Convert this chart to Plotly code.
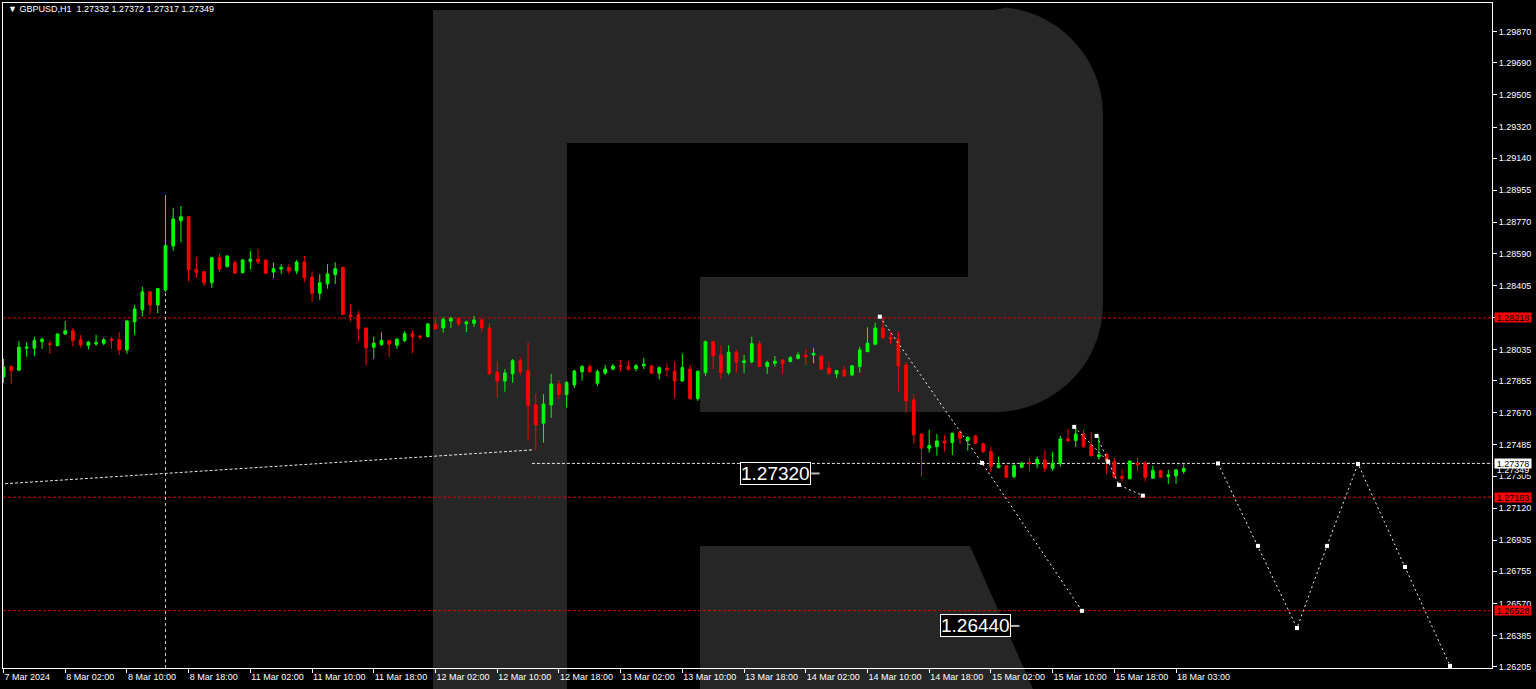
import math
import plotly.graph_objects as go

# ---------------- data ----------------
bar_index = list(range(154))
opens = [1.27877,1.27937,1.27916,1.28043,1.28043,1.28081,1.28069,1.28058,1.28125,1.28144,
         1.28092,1.28060,1.28068,1.28072,1.28096,1.28092,1.28033,1.28195,1.28264,1.28369,
         1.28293,1.28379,1.28633,1.28779,1.28802,1.28499,1.28485,1.28421,1.28566,1.28514,
         1.28537,1.28479,1.28543,1.28558,1.28552,1.28483,1.28500,1.28510,1.28489,1.28541,
         1.28454,1.28360,1.28414,1.28468,1.28510,1.28237,1.28237,1.28160,1.28049,1.28064,
         1.28087,1.28060,1.28087,1.28127,1.28114,1.28110,1.28183,1.28160,1.28200,1.28216,
         1.28183,1.28187,1.28206,1.28160,1.27906,1.27854,1.27895,1.27971,1.27914,1.27716,
         1.27610,1.27716,1.27837,1.27775,1.27831,1.27906,1.27937,1.27841,1.27899,1.27922,
         1.27942,1.27941,1.27925,1.27942,1.27941,1.27899,1.27927,1.27910,1.27854,1.27923,
         1.27752,1.27902,1.28081,1.28004,1.27902,1.28020,1.27960,1.27964,1.28069,1.27937,
         1.27956,1.27975,1.27966,1.27985,1.28004,1.28004,1.27998,1.27927,1.27895,1.27918,
         1.27889,1.27937,1.28023,1.28066,1.28160,1.28106,1.28096,1.27946,1.27745,1.27548,
         1.27466,1.27475,1.27508,1.27498,1.27558,1.27510,1.27537,1.27491,1.27446,1.27354,
         1.27365,1.27302,1.27356,1.27383,1.27375,1.27398,1.27350,1.27379,1.27519,1.27510,
         1.27548,1.27485,1.27417,1.27431,1.27388,1.27302,1.27289,1.27379,1.27379,1.27292,
         1.27337,1.27302,1.27306,1.27332]
highs = [1.27981,1.27946,1.28085,1.28077,1.28108,1.28104,1.28087,1.28129,1.28200,1.28160,
         1.28120,1.28085,1.28120,1.28104,1.28108,1.28137,1.28206,1.28293,1.28398,1.28373,
         1.28392,1.28927,1.28854,1.28864,1.28808,1.28571,1.28486,1.28571,1.28587,1.28581,
         1.28552,1.28558,1.28604,1.28616,1.28554,1.28537,1.28528,1.28529,1.28552,1.28577,
         1.28487,1.28472,1.28528,1.28539,1.28512,1.28298,1.28260,1.28160,1.28110,1.28133,
         1.28088,1.28102,1.28143,1.28148,1.28117,1.28189,1.28216,1.28222,1.28225,1.28222,
         1.28202,1.28231,1.28216,1.28187,1.27970,1.27922,1.27981,1.27985,1.28077,1.27783,
         1.27777,1.27895,1.27860,1.27854,1.27918,1.27946,1.27951,1.27918,1.27946,1.27952,
         1.27975,1.27970,1.27951,1.27987,1.27946,1.27937,1.27956,1.27966,1.28012,1.27948,
         1.27914,1.28087,1.28087,1.28060,1.28060,1.28033,1.28004,1.28110,1.28087,1.27971,
         1.27998,1.27981,1.27998,1.28020,1.28037,1.28043,1.28000,1.27966,1.27918,1.27941,
         1.27946,1.28052,1.28164,1.28191,1.28225,1.28139,1.28135,1.27962,1.27779,1.27548,
         1.27571,1.27548,1.27543,1.27556,1.27571,1.27533,1.27543,1.27498,1.27473,1.27417,
         1.27369,1.27373,1.27388,1.27412,1.27417,1.27456,1.27443,1.27537,1.27577,1.27581,
         1.27571,1.27560,1.27533,1.27440,1.27410,1.27341,1.27394,1.27412,1.27392,1.27365,
         1.27341,1.27341,1.27343,1.27372]
lows = [1.27843,1.27837,1.27915,1.27994,1.27998,1.28039,1.28010,1.28054,1.28121,1.28052,
        1.28046,1.28037,1.28056,1.28060,1.28039,1.28004,1.28010,1.28120,1.28225,1.28241,
        1.28245,1.28368,1.28606,1.28654,1.28427,1.28450,1.28404,1.28392,1.28483,1.28508,
        1.28472,1.28476,1.28499,1.28529,1.28472,1.28448,1.28473,1.28470,1.28470,1.28425,
        1.28310,1.28322,1.28387,1.28414,1.28235,1.28196,1.28081,1.27942,1.27983,1.28056,
        1.27994,1.28039,1.28077,1.28012,1.28092,1.28106,1.28152,1.28133,1.28160,1.28172,
        1.28137,1.28167,1.28133,1.27887,1.27754,1.27792,1.27844,1.27889,1.27510,1.27456,
        1.27498,1.27641,1.27752,1.27700,1.27814,1.27856,1.27904,1.27825,1.27889,1.27921,
        1.27914,1.27914,1.27910,1.27923,1.27895,1.27864,1.27879,1.27754,1.27851,1.27745,
        1.27739,1.27883,1.27923,1.27866,1.27889,1.27904,1.27899,1.27956,1.27933,1.27895,
        1.27937,1.27893,1.27962,1.27979,1.27942,1.27956,1.27918,1.27889,1.27870,1.27879,
        1.27883,1.27902,1.28021,1.28060,1.28095,1.28066,1.27792,1.27671,1.27489,1.27302,
        1.27440,1.27423,1.27446,1.27427,1.27489,1.27452,1.27491,1.27437,1.27327,1.27350,
        1.27294,1.27292,1.27350,1.27331,1.27350,1.27327,1.27335,1.27360,1.27500,1.27472,
        1.27467,1.27417,1.27398,1.27316,1.27292,1.27273,1.27287,1.27331,1.27273,1.27289,
        1.27294,1.27260,1.27260,1.27317]
closes = [1.27935,1.27914,1.28049,1.28050,1.28087,1.28095,1.28064,1.28125,1.28144,1.28087,
          1.28062,1.28079,1.28075,1.28092,1.28089,1.28033,1.28200,1.28270,1.28369,1.28293,
          1.28387,1.28637,1.28789,1.28802,1.28495,1.28481,1.28421,1.28566,1.28499,1.28575,
          1.28476,1.28552,1.28558,1.28543,1.28476,1.28502,1.28510,1.28489,1.28541,1.28450,
          1.28360,1.28421,1.28472,1.28502,1.28237,1.28225,1.28156,1.28045,1.28072,1.28087,
          1.28066,1.28095,1.28127,1.28110,1.28108,1.28183,1.28154,1.28210,1.28216,1.28183,
          1.28195,1.28206,1.28162,1.27895,1.27854,1.27900,1.27971,1.27908,1.27712,1.27600,
          1.27721,1.27837,1.27777,1.27844,1.27912,1.27937,1.27906,1.27908,1.27923,1.27941,
          1.27937,1.27922,1.27942,1.27951,1.27899,1.27931,1.27918,1.27854,1.27931,1.27752,
          1.27910,1.28081,1.27998,1.27902,1.28020,1.27962,1.27970,1.28069,1.27937,1.27960,
          1.27968,1.27954,1.27989,1.28004,1.27994,1.28014,1.27922,1.27899,1.27914,1.27883,
          1.27942,1.28033,1.28072,1.28160,1.28104,1.28095,1.27942,1.27739,1.27543,1.27466,
          1.27481,1.27508,1.27495,1.27552,1.27524,1.27529,1.27495,1.27446,1.27360,1.27369,
          1.27298,1.27365,1.27379,1.27375,1.27402,1.27350,1.27379,1.27519,1.27510,1.27548,
          1.27475,1.27423,1.27427,1.27388,1.27298,1.27292,1.27392,1.27369,1.27298,1.27337,
          1.27298,1.27312,1.27341,1.27349]

tick_bars = list(range(0, 153, 8))
tick_labels = ["7 Mar 2024", "8 Mar 02:00", "8 Mar 10:00", "8 Mar 18:00", "11 Mar 02:00",
               "11 Mar 10:00", "11 Mar 18:00", "12 Mar 02:00", "12 Mar 10:00", "12 Mar 18:00",
               "13 Mar 02:00", "13 Mar 10:00", "13 Mar 18:00", "14 Mar 02:00", "14 Mar 10:00",
               "14 Mar 18:00", "15 Mar 02:00", "15 Mar 10:00", "15 Mar 18:00", "18 Mar 03:00"]
price_ticks = [1.29870, 1.29690, 1.29505, 1.29320, 1.29140, 1.28955, 1.28770, 1.28590,
               1.28405, 1.28220, 1.28035, 1.27855, 1.27670, 1.27485, 1.27305, 1.27120,
               1.26935, 1.26755, 1.26570, 1.26385, 1.26205]

red_levels = [1.28218, 1.27183, 1.26528]
white_level = 1.27378
bid_price = 1.27349
vline_bar = 21

trend_x = [-0.45, 68.5]
trend_y = [1.27259, 1.27456]

fc_a_x = [113.6, 126.85, 139.8]
fc_a_y = [1.28225, 1.27381, 1.26527]
fc_b_x = [138.8, 143.2]
fc_b_y = [1.27589, 1.27388]
fc_c_x = [141.7, 144.6, 147.7]
fc_c_y = [1.27537, 1.27254, 1.27192]
fc_future_x = [157.44, 162.62, 167.68, 171.57, 175.59, 181.68, 187.52]
fc_future_y = [1.27378, 1.26902, 1.26428, 1.26902, 1.27375, 1.26780, 1.26209]

label_values = [1.27320, 1.26440]
label_right_x = [104.7, 130.6]

header = "\u25BC GBPUSD,H1  1.27332 1.27372 1.27317 1.27349"

# ---------------- figure ----------------
W, H = 1536, 689
ML, MR, MT, MB = 3, 44, 3, 21
PW, PH = W - ML - MR, H - MT - MB


def px(x):
    return (x - ML) / PW


def py(y):
    return (H - MB - y) / PH


def path(points):
    return "M " + " L ".join(f"{px(a):.5f},{py(b):.5f}" for a, b in points) + " Z"


FONT = "Liberation Sans"
fig = go.Figure()

# watermark "R"
wm = "#262626"
stem = [(433, 10), (567, 10), (567, 689), (433, 689)]
bowl_pts = [(567, 10), (995, 10)]
cx, cy, r = 995, 115, 108
for k in range(1, 16):
    a = -math.pi / 2 + k * (math.pi / 2) / 15
    bowl_pts.append((cx + r * math.cos(a), cy + r * math.sin(a)))
cx2, cy2 = 995, 304
for k in range(0, 16):
    a = k * (math.pi / 2) / 15
    bowl_pts.append((cx2 + r * math.cos(a), cy2 + r * math.sin(a)))
bowl_pts += [(700, 412), (700, 277), (968, 277), (968, 143), (567, 143)]
leg = [(700, 546), (970, 546), (1033, 689), (700, 689)]
shapes = []
for pts in (stem, bowl_pts, leg):
    shapes.append(dict(type="path", path=path(pts), xref="paper", yref="paper",
                       fillcolor=wm, line=dict(width=0), layer="below"))

for lv in red_levels:
    shapes.append(dict(type="line", xref="paper", yref="y", x0=0, x1=1, y0=lv, y1=lv,
                       line=dict(color="#D40000", width=1, dash="3px,2px"), layer="below"))
shapes.append(dict(type="line", xref="x", yref="y", x0=trend_x[1], x1=200,
                   y0=white_level, y1=white_level,
                   line=dict(color="#E8E8E8", width=1, dash="3px,2px"), layer="below"))
shapes.append(dict(type="line", xref="x", yref="paper", x0=vline_bar, x1=vline_bar,
                   y0=0, y1=py(195), line=dict(color="#C8C8C8", width=1, dash="3px,3px"),
                   layer="below"))
for v, xr in zip(label_values, label_right_x):
    shapes.append(dict(type="line", xref="x", yref="y", x0=xr, x1=xr + 1.1, y0=v, y1=v,
                       line=dict(color="#BBBBBB", width=2)))
fig.update_layout(shapes=shapes)

fig.add_trace(go.Scatter(x=trend_x, y=trend_y, mode="lines",
                         line=dict(color="#E8E8E8", width=1, dash="3px,2px"), hoverinfo="skip"))

fig.add_trace(go.Candlestick(
    x=bar_index, open=opens, high=highs, low=lows, close=closes,
    increasing=dict(line=dict(color="#00FF00", width=1), fillcolor="#00FF00"),
    decreasing=dict(line=dict(color="#FF0000", width=1), fillcolor="#FF0000"),
    whiskerwidth=0, hoverinfo="skip"))

for xs, ys in ((fc_a_x, fc_a_y), (fc_b_x, fc_b_y), (fc_c_x, fc_c_y), (fc_future_x, fc_future_y)):
    fig.add_trace(go.Scatter(x=xs, y=ys, mode="lines+markers",
                             line=dict(color="#F0F0F0", width=1, dash="2px,3px"),
                             marker=dict(symbol="square", size=4, color="#FFFFFF"),
                             hoverinfo="skip"))

annotations = []
for v, xr in zip(label_values, label_right_x):
    annotations.append(dict(x=xr, y=v, xref="x", yref="y", xanchor="right", yanchor="middle",
                            text=f"{v:.5f}", showarrow=False,
                            font=dict(family=FONT, size=19, color="#FFFFFF"),
                            bgcolor="#000000", bordercolor="#FFFFFF", borderwidth=1, borderpad=0))

xr_lab = px(1494)
annotations.append(dict(x=xr_lab, y=bid_price - 0.00004, xref="paper", yref="y", xanchor="left",
                        yanchor="middle", text=f"{bid_price:.5f}", showarrow=False,
                        font=dict(family=FONT, size=9, color="#FFFFFF"), bgcolor="#000000",
                        width=36, height=9, borderpad=0))
for lv in red_levels:
    annotations.append(dict(x=xr_lab, y=lv, xref="paper", yref="y", xanchor="left",
                            yanchor="middle", text=f"{lv:.5f}", showarrow=False,
                            font=dict(family=FONT, size=9, color="#000000"), bgcolor="#FF0000",
                            width=36, height=9, borderpad=0))
annotations.append(dict(x=xr_lab, y=white_level, xref="paper", yref="y", xanchor="left",
                        yanchor="middle", text=f"{white_level:.5f}", showarrow=False,
                        font=dict(family=FONT, size=9, color="#000000"), bgcolor="#FFFFFF",
                        width=36, height=9, borderpad=0))
annotations.append(dict(x=px(6), y=py(9), xref="paper", yref="paper", xanchor="left",
                        yanchor="middle", text=header, showarrow=False,
                        font=dict(family=FONT, size=9, color="#FFFFFF")))

fig.update_layout(
    width=W, height=H,
    margin=dict(l=ML, r=MR, t=MT, b=MB, autoexpand=False),
    paper_bgcolor="#000000", plot_bgcolor="rgba(0,0,0,0)",
    showlegend=False,
    boxgap=0.5,
    annotations=annotations,
    xaxis=dict(range=[-0.065, 192.96], rangeslider=dict(visible=False), showgrid=False,
               zeroline=False, tickmode="array", tickvals=tick_bars, ticktext=tick_labels,
               ticks="outside", ticklen=4, tickcolor="#FFFFFF", showline=True,
               linecolor="#FFFFFF", linewidth=1, mirror=True, ticklabelposition="outside right",
               tickangle=0,
               tickfont=dict(family=FONT, size=9, color="#FFFFFF"), automargin=False),
    yaxis=dict(range=[1.26197, 1.30036], side="right", showgrid=False, zeroline=False,
               tickmode="array", tickvals=price_ticks,
               ticktext=[f"{v:.5f}" for v in price_ticks],
               ticks="outside", ticklen=4, tickcolor="#FFFFFF", showline=True,
               linecolor="#FFFFFF", linewidth=1, mirror=True,
               tickfont=dict(family=FONT, size=9, color="#FFFFFF"), automargin=False),
)

fig.write_html("out.html", config={"displayModeBar": False},
               post_script="document.body.style.margin='0px';"
               "document.body.style.background='#000';")
